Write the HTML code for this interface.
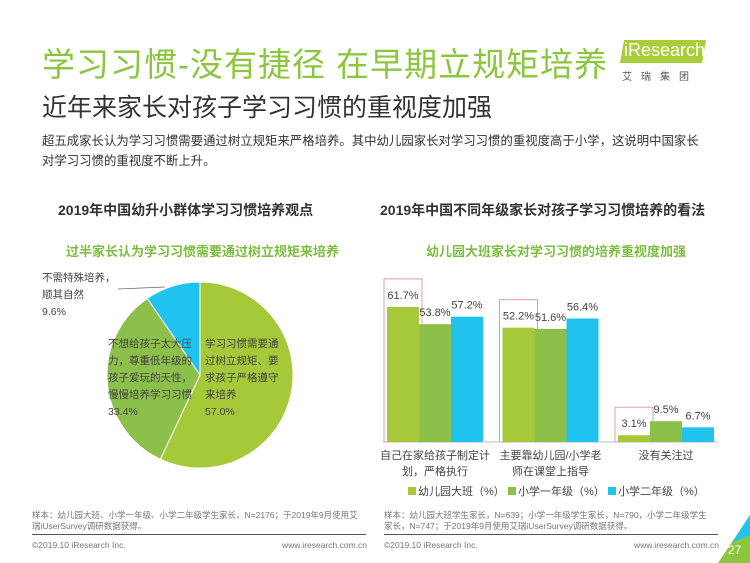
<!DOCTYPE html>
<html><head><meta charset="utf-8"><style>
body{margin:0;width:750px;height:563px;background:#fff;position:relative;overflow:hidden;font-family:"Liberation Sans","Noto Sans CJK SC",sans-serif;}
.a{position:absolute;white-space:nowrap;}
</style></head><body>
<div class="a" style="left:42px;top:38px;font-size:33px;color:#8cc63f;letter-spacing:1px">学习习惯-没有捷径 在早期立规矩培养</div>
<div class="a" style="left:42px;top:88px;font-size:25px;color:#333">近年来家长对孩子学习习惯的重视度加强</div>
<div class="a" style="left:622px;top:40px;width:82px;height:23px;background:#a8cf38;transform:skewX(-10deg)"></div>
<div class="a" style="left:624px;top:40px;font-size:18px;color:#fff">iResearch</div>
<div class="a" style="left:622px;top:68px;font-size:10px;color:#555;letter-spacing:9px">艾瑞集团</div>
<div class="a" style="left:42px;top:131px;font-size:12.4px;color:#333;line-height:20px">超五成家长认为学习习惯需要通过树立规矩来严格培养。其中幼儿园家长对学习习惯的重视度高于小学，这说明中国家长<br>对学习习惯的重视度不断上升。</div>
<div class="a" style="left:58px;top:200px;font-size:14px;font-weight:bold;color:#333">2019年中国幼升小群体学习习惯培养观点</div>
<div class="a" style="left:380px;top:200px;font-size:14px;font-weight:bold;color:#333">2019年中国不同年级家长对孩子学习习惯培养的看法</div>
<div class="a" style="left:66px;top:241px;font-size:13px;font-weight:bold;color:#7cbd3f">过半家长认为学习习惯需要通过树立规矩来培养</div>
<div class="a" style="left:426px;top:241px;font-size:13px;font-weight:bold;color:#7cbd3f">幼儿园大班家长对学习习惯的培养重视度加强</div>
<svg id="pie" class="a" style="left:0;top:260px" width="375" height="230"></svg>
<svg id="bar" class="a" style="left:375px;top:260px" width="375" height="245"></svg>
<div class="a" style="left:32px;top:510px;font-size:8.5px;color:#777;line-height:11px">样本：幼儿园大班、小学一年级、小学二年级学生家长，N=2176；于2019年9月使用艾<br>瑞iUserSurvey调研数据获得。</div>
<div class="a" style="left:384px;top:510px;font-size:8.5px;color:#777;line-height:11px">样本：幼儿园大班学生家长，N=639；小学一年级学生家长，N=790，小学二年级学生<br>家长，N=747；于2019年9月使用艾瑞iUserSurvey调研数据获得。</div>
<div class="a" style="left:32px;top:534px;width:334px;height:1px;background:#555"></div>
<div class="a" style="left:384px;top:534px;width:334px;height:1px;background:#555"></div>
<div class="a" style="left:32px;top:540px;font-size:8.5px;color:#777">©2019.10 iResearch Inc.</div>
<div class="a" style="left:282px;top:540px;font-size:8.5px;color:#777">www.iresearch.com.cn</div>
<div class="a" style="left:384px;top:540px;font-size:8.5px;color:#777">©2019.10 iResearch Inc.</div>
<div class="a" style="left:634px;top:540px;font-size:8.5px;color:#777">www.iresearch.com.cn</div>
<svg class="a" style="left:718px;top:515px" width="32" height="48"><polygon points="32,0 32,48 0,48" fill="#8cc63f"/><polygon points="32,0 32,20 14,28" fill="#20c3ee"/></svg>
<div class="a" style="left:728px;top:543px;font-size:12px;color:#fff">27</div>
<script>
const NS='http://www.w3.org/2000/svg';
function mk(p,t,a,txt){const e=document.createElementNS(NS,t);for(const k in a)e.setAttribute(k,a[k]);if(txt!=null)e.textContent=txt;p.appendChild(e);return e;}
// pie data
const pieLabels=['学习习惯需要通过树立规矩、要求孩子严格遵守来培养','不想给孩子太大压力，尊重低年级的孩子爱玩的天性，慢慢培养学习习惯','不需特殊培养，顺其自然'];
const pieValues=[57.0,33.4,9.6];
const pieColors=['#a6c93a','#8cc04a','#20c3ee'];
const pie=document.getElementById('pie');
const cx=200,cy=115,r=93;
let ang=-Math.PI/2;
const tot=pieValues.reduce((a,b)=>a+b,0);
pieValues.forEach((v,i)=>{
  const a2=ang+v/tot*2*Math.PI;
  const x1=cx+r*Math.cos(ang),y1=cy+r*Math.sin(ang),x2=cx+r*Math.cos(a2),y2=cy+r*Math.sin(a2);
  const p=mk(pie,'path',{d:`M${cx},${cy}L${x1},${y1}A${r},${r} 0 ${a2-ang>Math.PI?1:0} 1 ${x2},${y2}Z`,fill:pieColors[i],stroke:'#fff','stroke-width':1});
  
  
  ang=a2;
});
const pl=[
 {x:205,y:87,lines:['学习习惯需要通','过树立规矩、要','求孩子严格遵守','来培养',pieValues[0].toFixed(1)+'%']},
 {x:108,y:87,lines:['不想给孩子太大压','力，尊重低年级的','孩子爱玩的天性，','慢慢培养学习习惯',pieValues[1].toFixed(1)+'%']},
 {x:42,y:21,lines:['不需特殊培养，','顺其自然',pieValues[2].toFixed(1)+'%']}];
pl.forEach((o,i)=>{o.lines.forEach((l,j)=>{const t=mk(pie,'text',{x:o.x,y:o.y+j*17,'font-size':10.5,fill:'#444'},l);

});});
mk(pie,'line',{x1:118,y1:29,x2:165,y2:27,stroke:'#666','stroke-width':0.7});
// bar data
const categories=[['自己在家给孩子制定计','划，严格执行'],['主要靠幼儿园/小学老','师在课堂上指导'],['没有关注过']];
const seriesNames=['幼儿园大班（%）','小学一年级（%）','小学二年级（%）'];
const kindergarten=[61.7,52.2,3.1];
const grade1=[53.8,51.6,9.5];
const grade2=[57.2,56.4,6.7];
const colors=['#a6c93a','#8cc04a','#20c3ee'];
const svg=document.getElementById('bar');
const base=182, k=2.19;
const y=v=>base-v*k;
const gx=i=>12+i*115.5, bw=32;
const series=[kindergarten,grade1,grade2];
mk(svg,'line',{x1:8,y1:base,x2:343,y2:base,stroke:'#bbb','stroke-width':1});
categories.forEach((c,i)=>{
  const bx=gx(i);
  const box=mk(svg,'rect',{x:bx-3,y:y(kindergarten[i])-28,width:bw+6,height:base-y(kindergarten[i])+28,fill:'none',stroke:'#d9a0a8','stroke-width':1});
  
  
  series.forEach((s,j)=>{
    const b=mk(svg,'rect',{x:bx+j*bw,y:y(s[i]),width:bw,height:base-y(s[i]),fill:colors[j]});
    
    
    const t=mk(svg,'text',{x:bx+j*bw+bw/2,y:y(s[i])-8,'font-size':11,fill:'#444','text-anchor':'middle'},s[i].toFixed(1)+'%');
    
    
  });
  c.forEach((l,j)=>{const t=mk(svg,'text',{x:bx+48,y:base+17+j*16,'font-size':11,fill:'#444','text-anchor':'middle'},l);
  
  });
});
seriesNames.forEach((n,j)=>{
  const lx=33+j*100;
  const r2=mk(svg,'rect',{x:lx,y:227,width:8,height:8,fill:colors[j]});
  
  
  const t=mk(svg,'text',{x:lx+10,y:235,'font-size':11,fill:'#444'},n);
  
  
});
</script>
</body></html>
